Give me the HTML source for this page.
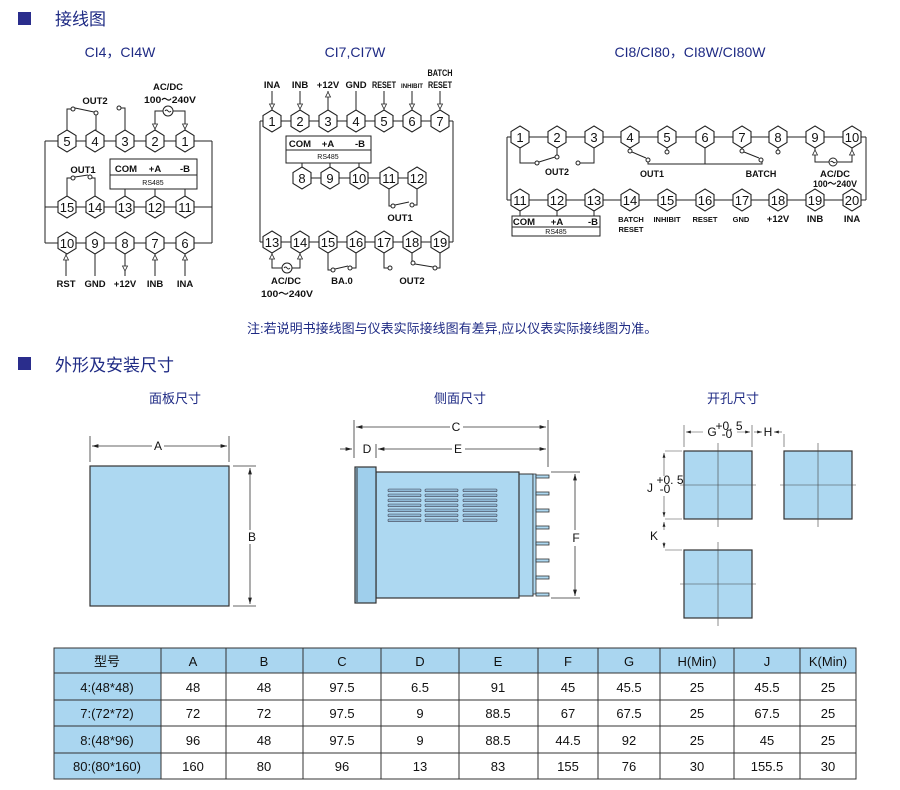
<!DOCTYPE html>
<html><head><meta charset="utf-8"><style>
html,body{margin:0;padding:0;background:#fff}
svg{display:block}
.t{font-family:"Liberation Sans Narrow","Liberation Sans",sans-serif;font-weight:bold;font-size:9.5px;fill:#111;text-anchor:middle}
.n{font-family:"Liberation Sans Narrow","Liberation Sans",sans-serif;font-size:13px;fill:#111;text-anchor:middle}
.s{font-family:"Liberation Sans",sans-serif;font-size:7px;fill:#111;text-anchor:middle}
.h{font-family:"Liberation Sans","Noto Sans CJK SC",sans-serif;fill:#1e2a84}
.c{font-family:"Liberation Sans","Noto Sans CJK SC",sans-serif;font-size:13px;fill:#111;text-anchor:middle}
.d{font-family:"Liberation Sans",sans-serif;font-size:12px;fill:#111;text-anchor:middle}
</style></head><body>
<svg width="900" height="790" viewBox="0 0 900 790" xmlns="http://www.w3.org/2000/svg">
<defs>
<polygon id="hx" points="0,-11 9,-5.5 9,5.5 0,11 -9,5.5 -9,-5.5" fill="#fff" stroke="#222" stroke-width="1.1"/>
<path id="ad" d="M-2.5,-4 L0,1 L2.5,-4 Z" fill="#fff" stroke="#222" stroke-width="0.8"/>
<path id="au" d="M-2.5,4 L0,-1 L2.5,4 Z" fill="#fff" stroke="#222" stroke-width="0.8"/>
<marker id="ar" viewBox="0 0 10 6" refX="10" refY="3" markerWidth="8" markerHeight="5" orient="auto-start-reverse"><path d="M0,0 L10,3 L0,6 Z" fill="#222"/></marker>
</defs>

<rect x="18" y="12" width="13" height="13" fill="#2a2d8c"/>
<text x="55" y="25" class="h" font-size="17">接线图</text>
<text x="120" y="57" class="h" font-size="14" text-anchor="middle">CI4，CI4W</text>
<text x="355" y="57" class="h" font-size="14" text-anchor="middle">CI7,CI7W</text>
<text x="690" y="57" class="h" font-size="14" text-anchor="middle">CI8/CI80，CI8W/CI80W</text>

<g stroke="#222" stroke-width="1" fill="none">
<path d="M45,141 H212 M45,207 H212 M45,243 H212 M45,141 V243 M212,141 V243"/>
<path d="M67,130 V109 H71 M75,108 L94,112 M96,115 V130"/>
<circle cx="73" cy="109" r="2" fill="#fff"/><circle cx="96" cy="113" r="2" fill="#fff"/>
<path d="M121,108 H125 V130"/><circle cx="119" cy="108" r="2" fill="#fff"/>
<path d="M155,130 V111 H163 M173,111 H185 V130"/><circle cx="168" cy="111" r="5" fill="#fff"/>
<path d="M165,111 q1.5,-2 3,0 t3,0"/>
<rect x="110" y="159" width="87" height="30" fill="#fff"/><path d="M110,175 H197"/>
<path d="M125,189 V196 M155,189 V196 M185,189 V196"/>
<path d="M67,196 V178 H71 M75,177 L88,175 M91,177 V178 H95 V196"/>
<circle cx="73" cy="178" r="2" fill="#fff"/><circle cx="90" cy="177" r="2" fill="#fff"/>
<path d="M66,254 V276 M95,254 V276 M125,254 V276 M155,254 V276 M185,254 V276"/>
<path d="M260,121 H453 M260,242 H453 M260,121 V242 M453,121 V242 M302,178 H417"/>
<path d="M272,110 V91 M300,110 V91 M328,110 V91 M356,110 V91 M384,110 V91 M412,110 V91 M440,110 V91"/>
<rect x="286" y="136" width="85" height="27" fill="#fff"/><path d="M286,150 H371"/>
<path d="M302,163 V167 M330,163 V167 M359,163 V167"/>
<path d="M389,189 V206 H391 M395,205 L409,202 M414,205 H417 V189"/>
<circle cx="393" cy="206" r="2" fill="#fff"/><circle cx="412" cy="205" r="2" fill="#fff"/>
<path d="M272,253 V268 H282 M292,268 H300 V253"/><circle cx="287" cy="268" r="5" fill="#fff"/>
<path d="M284,268 q1.5,-2 3,0 t3,0"/>
<path d="M328,253 V270 H331 M335,269 L348,266 M352,268 H356 V253"/>
<circle cx="333" cy="270" r="2" fill="#fff"/><circle cx="350" cy="268" r="2" fill="#fff"/>
<path d="M384,253 V268 H388"/><circle cx="390" cy="268" r="2" fill="#fff"/>
<path d="M412,253 V263 M415,264 L433,267 M437,268 H440 V253"/>
<circle cx="413" cy="263" r="2" fill="#fff"/><circle cx="435" cy="268" r="2" fill="#fff"/>
<path d="M507,137 H866 M507,200 H866 M507,137 V200 M866,137 V200"/>
<path d="M520,148 V163 H535 M539,162 L555,157 M557,155 V148"/>
<circle cx="537" cy="163" r="2" fill="#fff"/><circle cx="557" cy="157" r="2" fill="#fff"/>
<path d="M594,148 V163 H580"/><circle cx="578" cy="163" r="2" fill="#fff"/>
<path d="M630,148 V149 M632,152 L646,158 M648,162 V164 H762 V162 M705,148 V164 M667,148 V150 M742,148 V149 M744,152 L759,158 M778,148 V150"/>
<circle cx="630" cy="151" r="2" fill="#fff"/><circle cx="648" cy="160" r="2" fill="#fff"/>
<circle cx="667" cy="152" r="2" fill="#fff"/><circle cx="742" cy="151" r="2" fill="#fff"/>
<circle cx="761" cy="160" r="2" fill="#fff"/><circle cx="778" cy="152" r="2" fill="#fff"/>
<path d="M815,148 V162 H829 M837,162 H852 V148"/><circle cx="833" cy="162" r="4" fill="#fff"/>
<path d="M830.5,162 q1.2,-1.6 2.5,0 t2.5,0"/>
<rect x="512" y="216" width="88" height="20" fill="#fff"/><path d="M512,227 H600"/>
<path d="M520,211 V216 M557,211 V216 M594,211 V216"/>
</g>

<g>
<use href="#hx" x="67" y="141"/><use href="#hx" x="95" y="141"/><use href="#hx" x="125" y="141"/><use href="#hx" x="155" y="141"/><use href="#hx" x="185" y="141"/>
<use href="#hx" x="67" y="207"/><use href="#hx" x="95" y="207"/><use href="#hx" x="125" y="207"/><use href="#hx" x="155" y="207"/><use href="#hx" x="185" y="207"/>
<use href="#hx" x="67" y="243"/><use href="#hx" x="95" y="243"/><use href="#hx" x="125" y="243"/><use href="#hx" x="155" y="243"/><use href="#hx" x="185" y="243"/>
<use href="#ad" x="155" y="128"/><use href="#ad" x="185" y="128"/>
<use href="#au" x="66" y="256"/><use href="#ad" x="125" y="270"/><use href="#au" x="155" y="256"/><use href="#au" x="185" y="256"/>
</g>
<g class="n">
<text x="67" y="146">5</text><text x="95" y="146">4</text><text x="125" y="146">3</text><text x="155" y="146">2</text><text x="185" y="146">1</text>
<text x="67" y="212">15</text><text x="95" y="212">14</text><text x="125" y="212">13</text><text x="155" y="212">12</text><text x="185" y="212">11</text>
<text x="67" y="248">10</text><text x="95" y="248">9</text><text x="125" y="248">8</text><text x="155" y="248">7</text><text x="185" y="248">6</text>
</g>
<g class="t">
<text x="95" y="104">OUT2</text><text x="168" y="90">AC/DC</text><text x="170" y="103" textLength="52" lengthAdjust="spacingAndGlyphs">100～240V</text>
<text x="83" y="173">OUT1</text>
<text x="126" y="172">COM</text><text x="155" y="172">+A</text><text x="185" y="172">-B</text>
<text x="66" y="287">RST</text><text x="95" y="287">GND</text><text x="125" y="287">+12V</text><text x="155" y="287">INB</text><text x="185" y="287">INA</text>
</g>
<text x="153" y="185" class="s">RS485</text>

<g>
<use href="#hx" x="272" y="121"/><use href="#hx" x="300" y="121"/><use href="#hx" x="328" y="121"/><use href="#hx" x="356" y="121"/><use href="#hx" x="384" y="121"/><use href="#hx" x="412" y="121"/><use href="#hx" x="440" y="121"/>
<use href="#hx" x="302" y="178"/><use href="#hx" x="330" y="178"/><use href="#hx" x="359" y="178"/><use href="#hx" x="389" y="178"/><use href="#hx" x="417" y="178"/>
<use href="#hx" x="272" y="242"/><use href="#hx" x="300" y="242"/><use href="#hx" x="328" y="242"/><use href="#hx" x="356" y="242"/><use href="#hx" x="384" y="242"/><use href="#hx" x="412" y="242"/><use href="#hx" x="440" y="242"/>
<use href="#ad" x="272" y="108"/><use href="#ad" x="300" y="108"/><use href="#au" x="328" y="93"/><use href="#ad" x="384" y="108"/><use href="#ad" x="412" y="108"/><use href="#ad" x="440" y="108"/>
<use href="#au" x="272" y="255"/><use href="#au" x="300" y="255"/>
</g>
<g class="n">
<text x="272" y="126">1</text><text x="300" y="126">2</text><text x="328" y="126">3</text><text x="356" y="126">4</text><text x="384" y="126">5</text><text x="412" y="126">6</text><text x="440" y="126">7</text>
<text x="302" y="183">8</text><text x="330" y="183">9</text><text x="359" y="183">10</text><text x="389" y="183">11</text><text x="417" y="183">12</text>
<text x="272" y="247">13</text><text x="300" y="247">14</text><text x="328" y="247">15</text><text x="356" y="247">16</text><text x="384" y="247">17</text><text x="412" y="247">18</text><text x="440" y="247">19</text>
</g>
<g class="t">
<text x="272" y="88">INA</text><text x="300" y="88">INB</text><text x="328" y="88">+12V</text><text x="356" y="88">GND</text>
<text x="384" y="88" textLength="24" lengthAdjust="spacingAndGlyphs">RESET</text>
<text x="412" y="88" font-size="6" textLength="22" lengthAdjust="spacingAndGlyphs">INHIBIT</text>
<text x="440" y="76" textLength="25" lengthAdjust="spacingAndGlyphs">BATCH</text><text x="440" y="88" textLength="24" lengthAdjust="spacingAndGlyphs">RESET</text>
<text x="300" y="147">COM</text><text x="328" y="147">+A</text><text x="360" y="147">-B</text>
<text x="400" y="221">OUT1</text>
<text x="286" y="284">AC/DC</text><text x="287" y="297" textLength="52" lengthAdjust="spacingAndGlyphs">100～240V</text><text x="342" y="284">BA.0</text><text x="412" y="284">OUT2</text>
</g>
<text x="328" y="159" class="s">RS485</text>

<g>
<use href="#hx" x="520" y="137"/><use href="#hx" x="557" y="137"/><use href="#hx" x="594" y="137"/><use href="#hx" x="630" y="137"/><use href="#hx" x="667" y="137"/><use href="#hx" x="705" y="137"/><use href="#hx" x="742" y="137"/><use href="#hx" x="778" y="137"/><use href="#hx" x="815" y="137"/><use href="#hx" x="852" y="137"/>
<use href="#hx" x="520" y="200"/><use href="#hx" x="557" y="200"/><use href="#hx" x="594" y="200"/><use href="#hx" x="630" y="200"/><use href="#hx" x="667" y="200"/><use href="#hx" x="705" y="200"/><use href="#hx" x="742" y="200"/><use href="#hx" x="778" y="200"/><use href="#hx" x="815" y="200"/><use href="#hx" x="852" y="200"/>
<use href="#au" x="815" y="151"/><use href="#au" x="852" y="151"/>
</g>
<g class="n">
<text x="520" y="142">1</text><text x="557" y="142">2</text><text x="594" y="142">3</text><text x="630" y="142">4</text><text x="667" y="142">5</text><text x="705" y="142">6</text><text x="742" y="142">7</text><text x="778" y="142">8</text><text x="815" y="142">9</text><text x="852" y="142">10</text>
<text x="520" y="205">11</text><text x="557" y="205">12</text><text x="594" y="205">13</text><text x="630" y="205">14</text><text x="667" y="205">15</text><text x="705" y="205">16</text><text x="742" y="205">17</text><text x="778" y="205">18</text><text x="815" y="205">19</text><text x="852" y="205">20</text>
</g>
<g class="t" font-size="8.5">
<text x="557" y="175" font-size="9">OUT2</text><text x="652" y="177" font-size="9">OUT1</text><text x="761" y="177" font-size="9">BATCH</text>
<text x="835" y="177">AC/DC</text><text x="835" y="187" textLength="44" lengthAdjust="spacingAndGlyphs">100～240V</text>
<text x="524" y="225">COM</text><text x="557" y="225">+A</text><text x="593" y="225">-B</text>
<text x="631" y="222" font-size="7.5">BATCH</text><text x="631" y="232" font-size="7.5">RESET</text>
<text x="667" y="222" font-size="7.5">INHIBIT</text><text x="705" y="222" font-size="7.5">RESET</text><text x="741" y="222" font-size="7.5">GND</text>
<text x="778" y="222">+12V</text><text x="815" y="222">INB</text><text x="852" y="222">INA</text>
</g>
<text x="556" y="234" class="s" font-size="6">RS485</text>

<text x="247" y="333" class="h" font-size="13">注:若说明书接线图与仪表实际接线图有差异,应以仪表实际接线图为准。</text>

<rect x="18" y="357" width="13" height="13" fill="#2a2d8c"/>
<text x="55" y="371" class="h" font-size="17">外形及安装尺寸</text>
<text x="175" y="403" class="h" font-size="13" text-anchor="middle">面板尺寸</text>
<text x="460" y="403" class="h" font-size="13" text-anchor="middle">侧面尺寸</text>
<text x="733" y="403" class="h" font-size="13" text-anchor="middle">开孔尺寸</text>

<g stroke="#333" stroke-width="0.8" fill="none">
<path d="M90,436 V462 M229,436 V462 M233,466 H256 M233,606 H256"/>
<path d="M92,446 H152 M164,446 H227" marker-start="url(#ar)" marker-end="url(#ar)"/>
<path d="M250,468 V530 M250,544 V604" marker-start="url(#ar)" marker-end="url(#ar)"/>
</g>
<rect x="90" y="466" width="139" height="140" fill="#add8f1" stroke="#333" stroke-width="1.2"/>
<text x="158" y="450" class="d">A</text><text x="252" y="541" class="d">B</text>

<g stroke="#333" stroke-width="0.8" fill="none">
<path d="M354,420 V458 M376,444 V458 M548,420 V467 M551,472 H580 M551,598 H580"/>
<path d="M356,427 H450 M463,427 H546" marker-start="url(#ar)" marker-end="url(#ar)"/>
<path d="M378,449 H452 M465,449 H546" marker-start="url(#ar)" marker-end="url(#ar)"/>
<path d="M340,449 H352" marker-end="url(#ar)"/>
<path d="M575,474 V530 M575,546 V596" marker-start="url(#ar)" marker-end="url(#ar)"/>
</g>
<text x="456" y="431" class="d">C</text><text x="367" y="453" class="d">D</text><text x="458" y="453" class="d">E</text><text x="576" y="542" class="d">F</text>
<rect x="519" y="474" width="14" height="122" fill="#add8f1" stroke="#333"/>
<rect x="376" y="472" width="143" height="126" fill="#add8f1" stroke="#333" stroke-width="1.2"/>
<rect x="355" y="467" width="21" height="136" fill="#9fcfec" stroke="#333" stroke-width="1.2"/>
<path d="M357,468 V602" stroke="#333"/>
<g fill="#8fb8d4" stroke="#445" stroke-width="0.6">
<rect x="388" y="489" width="33" height="2.6" rx="1"/><rect x="388" y="494" width="33" height="2.6" rx="1"/><rect x="388" y="499" width="33" height="2.6" rx="1"/><rect x="388" y="504" width="33" height="2.6" rx="1"/><rect x="388" y="509" width="33" height="2.6" rx="1"/><rect x="388" y="514" width="33" height="2.6" rx="1"/><rect x="388" y="519" width="33" height="2.6" rx="1"/>
<rect x="425" y="489" width="33" height="2.6" rx="1"/><rect x="425" y="494" width="33" height="2.6" rx="1"/><rect x="425" y="499" width="33" height="2.6" rx="1"/><rect x="425" y="504" width="33" height="2.6" rx="1"/><rect x="425" y="509" width="33" height="2.6" rx="1"/><rect x="425" y="514" width="33" height="2.6" rx="1"/><rect x="425" y="519" width="33" height="2.6" rx="1"/>
<rect x="463" y="489" width="34" height="2.6" rx="1"/><rect x="463" y="494" width="34" height="2.6" rx="1"/><rect x="463" y="499" width="34" height="2.6" rx="1"/><rect x="463" y="504" width="34" height="2.6" rx="1"/><rect x="463" y="509" width="34" height="2.6" rx="1"/><rect x="463" y="514" width="34" height="2.6" rx="1"/><rect x="463" y="519" width="34" height="2.6" rx="1"/>
</g>
<g fill="#add8f1" stroke="#333" stroke-width="0.8">
<path d="M533,474 H536 V594 H533 Z"/>
<rect x="536" y="475" width="13" height="3"/><rect x="536" y="492" width="13" height="3"/><rect x="536" y="509" width="13" height="3"/><rect x="536" y="526" width="13" height="3"/><rect x="536" y="542" width="13" height="3"/><rect x="536" y="559" width="13" height="3"/><rect x="536" y="576" width="13" height="3"/><rect x="536" y="593" width="13" height="3"/>
</g>

<g stroke="#333" stroke-width="1.2" fill="#add8f1">
<rect x="684" y="451" width="68" height="68"/><rect x="784" y="451" width="68" height="68"/><rect x="684" y="550" width="68" height="68"/>
</g>
<g stroke="#444" stroke-width="0.6" fill="none">
<path d="M718,443 V527 M680,485 H756 M818,443 V527 M780,485 H856 M718,542 V626 M680,584 H756"/>
<path d="M684,425 V447 M752,425 V447 M784,434 V447 M665,451 H682 M665,519 H682 M665,550 H682"/>
<path d="M686,432 H703 M737,432 H750" marker-start="url(#ar)" marker-end="url(#ar)"/>
<path d="M754,432 H762" marker-end="url(#ar)"/>
<path d="M782,432 H774" marker-end="url(#ar)"/>
<path d="M664,453 V476 M664,496 V517" marker-start="url(#ar)" marker-end="url(#ar)"/>
<path d="M664,522 V530 M664,542 V548" marker-start="url(#ar)" marker-end="url(#ar)"/>
</g>
<text x="712" y="436" class="d">G</text><text x="729" y="430" class="d" font-size="8.5">+0. 5</text><text x="727" y="438" class="d" font-size="8.5">-0</text>
<text x="768" y="436" class="d">H</text>
<text x="650" y="492" class="d">J</text><text x="670" y="484" class="d" font-size="8.5">+0. 5</text><text x="665" y="493" class="d" font-size="8.5">-0</text>
<text x="654" y="540" class="d">K</text>

<rect x="54" y="648" width="107" height="131" fill="#aad6f0"/>
<rect x="161" y="648" width="695" height="25" fill="#aad6f0"/>
<g stroke="#333" stroke-width="1" fill="none">
<rect x="54" y="648" width="802" height="131"/>
<path d="M54,673 H856 M54,700 H856 M54,726 H856 M54,753 H856"/>
<path d="M161,648 V779 M226,648 V779 M303,648 V779 M381,648 V779 M459,648 V779 M538,648 V779 M598,648 V779 M660,648 V779 M734,648 V779 M800,648 V779"/>
</g>
<g class="c">
<text x="107" y="666">型号</text><text x="193" y="666">A</text><text x="264" y="666">B</text><text x="342" y="666">C</text><text x="420" y="666">D</text><text x="498" y="666">E</text><text x="568" y="666">F</text><text x="629" y="666">G</text><text x="697" y="666">H(Min)</text><text x="767" y="666">J</text><text x="828" y="666">K(Min)</text>
<text x="107" y="692">4:(48*48)</text><text x="193" y="692">48</text><text x="264" y="692">48</text><text x="342" y="692">97.5</text><text x="420" y="692">6.5</text><text x="498" y="692">91</text><text x="568" y="692">45</text><text x="629" y="692">45.5</text><text x="697" y="692">25</text><text x="767" y="692">45.5</text><text x="828" y="692">25</text>
<text x="107" y="718">7:(72*72)</text><text x="193" y="718">72</text><text x="264" y="718">72</text><text x="342" y="718">97.5</text><text x="420" y="718">9</text><text x="498" y="718">88.5</text><text x="568" y="718">67</text><text x="629" y="718">67.5</text><text x="697" y="718">25</text><text x="767" y="718">67.5</text><text x="828" y="718">25</text>
<text x="107" y="745">8:(48*96)</text><text x="193" y="745">96</text><text x="264" y="745">48</text><text x="342" y="745">97.5</text><text x="420" y="745">9</text><text x="498" y="745">88.5</text><text x="568" y="745">44.5</text><text x="629" y="745">92</text><text x="697" y="745">25</text><text x="767" y="745">45</text><text x="828" y="745">25</text>
<text x="107" y="771">80:(80*160)</text><text x="193" y="771">160</text><text x="264" y="771">80</text><text x="342" y="771">96</text><text x="420" y="771">13</text><text x="498" y="771">83</text><text x="568" y="771">155</text><text x="629" y="771">76</text><text x="697" y="771">30</text><text x="767" y="771">155.5</text><text x="828" y="771">30</text>
</g>
</svg>
</body></html>
